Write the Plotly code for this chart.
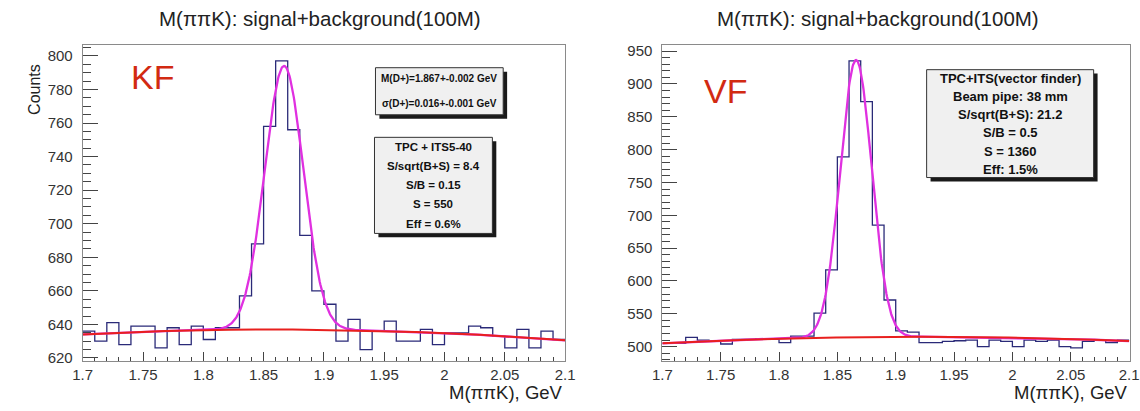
import numpy as np
import plotly.graph_objects as go

W, H = 1140, 411

# ---------------- data ----------------
bin_edges = np.round(np.linspace(1.70, 2.10, 41), 2)

kf_counts = [636, 630, 641, 628, 639, 639, 626, 638, 628, 639,
             631, 638, 638, 657, 688, 758, 797, 756, 693, 660,
             652, 630, 643, 625, 636, 642, 630, 630, 637, 628,
             635, 635, 639, 638, 633, 626, 637, 626, 636, 631]

vf_counts = [505, 505, 514, 510, 508, 504, 511, 511, 512, 511,
             506, 516, 516, 551, 617, 789, 935, 873, 685, 571,
             524, 522, 506, 506, 508, 509, 510, 500, 510, 508,
             500, 510, 508, 510, 500, 498, 508, 510, 506, 510]

# fit parameters (gaussian signal + quadratic background)
kf_mean, kf_sigma, kf_amp = 1.867, 0.016, 157.0
kf_bg_x = [1.70, 1.88, 2.10]
kf_bg_y = [634.0, 637.0, 630.5]

vf_mean, vf_sigma, vf_amp = 1.866, 0.0135, 422.0
vf_bg_x = [1.70, 1.85, 2.10]
vf_bg_y = [505.0, 514.0, 508.5]

x_tick_vals = [1.70, 1.75, 1.80, 1.85, 1.90, 1.95, 2.00, 2.05, 2.10]
x_tick_text = ["1.7", "1.75", "1.8", "1.85", "1.9", "1.95", "2", "2.05", "2.1"]
kf_y_ticks = [620, 640, 660, 680, 700, 720, 740, 760, 780, 800]
vf_y_ticks = [500, 550, 600, 650, 700, 750, 800, 850, 900, 950]

title_text = "M(ππK): signal+background(100M)"
xtitle_text = "M(ππK), GeV"
ytitle_text = "Counts"
kf_box1 = ["M(D+)=1.867+-0.002 GeV", "σ(D+)=0.016+-0.001 GeV"]
kf_box2 = ["TPC + ITS5-40", "S/sqrt(B+S) = 8.4", "S/B = 0.15", "S = 550", "Eff = 0.6%"]
vf_box = ["TPC+ITS(vector finder)", "Beam pipe: 38 mm", "S/sqrt(B+S): 21.2",
          "S/B = 0.5", "S = 1360", "Eff: 1.5%"]

# ---------------- helpers ----------------
def px(x):
    return x / W

def py(y):
    return 1 - y / H

FONT = "Liberation Sans, Arial, Helvetica, sans-serif"
HIST_COLOR = "#2a2a78"
FIT_COLOR = "#e030e0"
BG_COLOR = "#e8201e"
LABEL_RED = "#d22a12"

xs = np.linspace(1.70, 2.10, 801)

def fit_curves(mean, sigma, amp, bgx, bgy):
    coef = np.polyfit(bgx, bgy, 2)
    bg = np.polyval(coef, xs)
    total = bg + amp * np.exp(-0.5 * ((xs - mean) / sigma) ** 2)
    return bg, total

fig = go.Figure()

panels = [
    ("x", "y", kf_counts, (kf_mean, kf_sigma, kf_amp, kf_bg_x, kf_bg_y)),
    ("x2", "y2", vf_counts, (vf_mean, vf_sigma, vf_amp, vf_bg_x, vf_bg_y)),
]
for xa, ya, counts, pars in panels:
    bg, total = fit_curves(*pars)
    fig.add_trace(go.Scatter(x=bin_edges, y=list(counts) + [counts[-1]], mode="lines",
                             line=dict(shape="hv", color=HIST_COLOR, width=1.3),
                             xaxis=xa, yaxis=ya, hoverinfo="skip"))
    fig.add_trace(go.Scatter(x=xs, y=total, mode="lines",
                             line=dict(color=FIT_COLOR, width=2.3),
                             xaxis=xa, yaxis=ya, hoverinfo="skip"))
    fig.add_trace(go.Scatter(x=xs, y=bg, mode="lines",
                             line=dict(color=BG_COLOR, width=2),
                             xaxis=xa, yaxis=ya, hoverinfo="skip"))

y_dom = [py(365), py(43)]
common_x = dict(showgrid=False, zeroline=False, showline=True, mirror=True,
                linecolor="#8a8a8a", linewidth=1, ticks="inside", ticklen=9, tickwidth=1,
                tickcolor="#444", tickmode="array", tickvals=x_tick_vals, ticktext=x_tick_text,
                tickfont=dict(family=FONT, size=15, color="#333"),
                minor=dict(ticks="inside", ticklen=4, tickcolor="#444", tickmode="linear",
                           tick0=1.7, dtick=0.01))
common_y = dict(showgrid=False, zeroline=False, showline=True, mirror=True,
                linecolor="#8a8a8a", linewidth=1, ticks="inside", ticklen=15, tickwidth=1,
                tickcolor="#444", tickmode="array",
                tickfont=dict(family=FONT, size=15, color="#333"), ticklabelstandoff=6)

fig.update_layout(
    width=W, height=H, margin=dict(l=0, r=0, t=0, b=0),
    paper_bgcolor="white", plot_bgcolor="white", showlegend=False,
    xaxis=dict(domain=[px(74), px(565)], anchor="y", range=[1.7, 2.1], **common_x),
    yaxis=dict(domain=y_dom, anchor="x", range=[618.25, 806.4], tickvals=kf_y_ticks,
               minor=dict(ticks="inside", ticklen=8, tickcolor="#444", tickmode="linear",
                          tick0=620, dtick=5), **common_y),
    # right frame runs slightly past the picture edge, as in the original
    xaxis2=dict(domain=[px(664), 1.0], anchor="y2", range=[1.7, 2.1008], **common_x),
    yaxis2=dict(domain=y_dom, anchor="x2", range=[478.3, 959.0], tickvals=vf_y_ticks,
                minor=dict(ticks="inside", ticklen=8, tickcolor="#444", tickmode="linear",
                           tick0=500, dtick=10), **common_y),
)

shapes = []
annotations = []

def add_box(x0, y0, x1, y1, lines, ys, size):
    shapes.append(dict(type="rect", xref="paper", yref="paper",
                       x0=px(x0 + 4), x1=px(x1 + 4), y0=py(y1 + 4), y1=py(y0 + 4),
                       fillcolor="#1a1a1a", line=dict(width=0)))
    shapes.append(dict(type="rect", xref="paper", yref="paper",
                       x0=px(x0), x1=px(x1), y0=py(y1), y1=py(y0),
                       fillcolor="#f0f0f0", line=dict(color="#333", width=1)))
    for t, yy in zip(lines, ys):
        annotations.append(dict(text="<b>%s</b>" % t, x=px((x0 + x1) / 2), y=py(yy),
                                xref="paper", yref="paper", xanchor="center", yanchor="middle",
                                showarrow=False, font=dict(family=FONT, size=size, color="#111")))

add_box(372, 66, 502, 114, kf_box1, [77, 102], 10)
add_box(371, 137, 491, 235, kf_box2, [147, 166, 186, 205, 225], 11.5)
add_box(933, 68, 1103, 178, vf_box, [77, 95, 113.5, 132.5, 151, 170], 13)

# titles
for cx in (316, 884):
    annotations.append(dict(text=title_text, x=px(cx), y=py(16), xref="paper", yref="paper",
                            xanchor="center", yanchor="middle", showarrow=False,
                            font=dict(family=FONT, size=20.5, color="#222")))
for rx in (565, 1140):
    annotations.append(dict(text=xtitle_text, x=px(rx), y=py(397), xref="paper", yref="paper",
                            xanchor="right", yanchor="middle", showarrow=False,
                            font=dict(family=FONT, size=18.5, color="#222")))
annotations.append(dict(text=ytitle_text, x=px(25), y=py(60), xref="paper", yref="paper",
                        xanchor="center", yanchor="top", textangle=-90, showarrow=False,
                        font=dict(family=FONT, size=16, color="#222")))
annotations.append(dict(text="KF", x=px(121), y=py(75), xref="paper", yref="paper",
                        xanchor="left", yanchor="middle", showarrow=False,
                        font=dict(family=FONT, size=34, color=LABEL_RED)))
annotations.append(dict(text="VF", x=px(704), y=py(90), xref="paper", yref="paper",
                        xanchor="left", yanchor="middle", showarrow=False,
                        font=dict(family=FONT, size=34, color=LABEL_RED)))

fig.update_layout(shapes=shapes, annotations=annotations)
fig.write_html("out.html")
